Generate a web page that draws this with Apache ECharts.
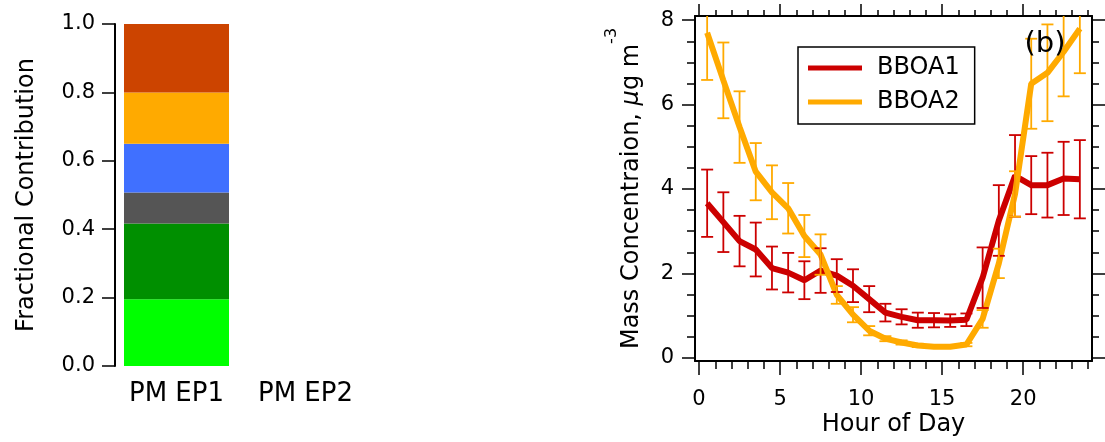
<!DOCTYPE html>
<html><head><meta charset="utf-8">
<script src="https://cdn.jsdelivr.net/npm/echarts@6/dist/echarts.min.js"></script>
<style>html,body{margin:0;padding:0;background:#fff}#c{width:1105px;height:442px}</style>
</head><body><div id="c"></div>
<script>
// ---------- data: panel (a) fractional contribution ----------
const barCategories = ['PM EP1', 'PM EP2'];
const factorNames = ['Factor 1', 'Factor 2', 'Factor 3', 'Factor 4', 'Factor 5', 'Factor 6'];
const factor1 = [0.195, null];
const factor2 = [0.222, null];
const factor3 = [0.090, null];
const factor4 = [0.143, null];
const factor5 = [0.150, null];
const factor6 = [0.200, null];
const fracTicks = [0.0, 0.2, 0.4, 0.6, 0.8, 1.0];

// ---------- data: panel (b) diurnal profiles ----------
const hours = [0.5, 1.5, 2.5, 3.5, 4.5, 5.5, 6.5, 7.5, 8.5, 9.5, 10.5, 11.5,
               12.5, 13.5, 14.5, 15.5, 16.5, 17.5, 18.5, 19.5, 20.5, 21.5, 22.5, 23.5];
const bboa1 = [3.65, 3.20, 2.75, 2.55, 2.11, 2.00, 1.82, 2.05, 1.93, 1.69, 1.37, 1.05,
               0.95, 0.87, 0.87, 0.86, 0.88, 1.88, 3.24, 4.30, 4.08, 4.08, 4.24, 4.22];
const bboa1Err = [0.80, 0.71, 0.60, 0.64, 0.51, 0.47, 0.45, 0.53, 0.39, 0.39, 0.31, 0.21,
                  0.18, 0.18, 0.17, 0.15, 0.15, 0.72, 0.84, 0.97, 0.69, 0.77, 0.87, 0.93];
const bboa2 = [7.70, 6.57, 5.46, 4.40, 3.91, 3.53, 2.87, 2.43, 1.47, 1.00, 0.62, 0.43,
               0.34, 0.27, 0.24, 0.24, 0.29, 0.90, 2.22, 3.87, 6.49, 6.75, 7.25, 7.80];
const bboa2Err = [1.12, 0.90, 0.85, 0.68, 0.64, 0.60, 0.50, 0.48, 0.21, 0.18, 0.11, 0.06,
                  0.05, 0.04, 0.03, 0.03, 0.04, 0.21, 0.35, 0.54, 1.07, 1.15, 1.06, 1.06];
const hourTicks = [0, 5, 10, 15, 20];
const concTicks = [0, 2, 4, 6, 8];

// ---------- styles ----------
const FONT = 'DejaVu Sans';
const factorColors = ['#00FF00', '#008F00', '#555555', '#4070FF', '#FFAA00', '#CC4400'];
const RED = '#CC0000', ORANGE = '#FFAA00';

const factorData = [factor1, factor2, factor3, factor4, factor5, factor6];
const barSeries = factorData.map((d, i) => ({
  name: factorNames[i], type: 'bar', stack: 'frac', xAxisIndex: 0, yAxisIndex: 0,
  barWidth: 105, data: d, itemStyle: { color: factorColors[i] }, silent: true
}));

function errRender(color) {
  return function (params, api) {
    const x = api.value(0), v = api.value(1), e = api.value(2);
    const t = api.coord([x, v + e]), b = api.coord([x, v - e]);
    const hw = 6;
    const style = { stroke: color, lineWidth: 1.8, fill: null };
    return { type: 'group', children: [
      { type: 'line', shape: { x1: t[0], y1: t[1], x2: b[0], y2: b[1] }, style },
      { type: 'line', shape: { x1: t[0] - hw, y1: t[1], x2: t[0] + hw, y2: t[1] }, style },
      { type: 'line', shape: { x1: b[0] - hw, y1: b[1], x2: b[0] + hw, y2: b[1] }, style }
    ]};
  };
}

const black = '#000';
const frameLine = { show: true, onZero: false, lineStyle: { color: black, width: 2 } };
const noLine = { show: false, onZero: false };
const tickStyle = { width: 1.5, color: black };
const hidden = (gi) => ({ gridIndex: gi, type: 'value', show: false, min: 0, max: 1, axisLine: { onZero: false } });

const option = {
  animation: false,
  textStyle: { fontFamily: FONT, color: black },
  grid: [
    { left: 112, top: 24, width: 258, height: 342 },          // 0 panel a
    { left: 695, top: 16, width: 397, height: 346 },          // 1 frame b
    { left: 699.05, top: 16, width: 388.9, height: 346 },     // 2 minor hour ticks 0..24
    { left: 699.05, top: 16, width: 324.08, height: 346 },    // 3 major hour ticks 0..20
    { left: 695, top: 20.22, width: 397, height: 337.56 }     // 4 conc ticks 0..8
  ],
  legend: {
    data: ['BBOA1', 'BBOA2'], left: 798, top: 47, orient: 'vertical',
    icon: 'rect', itemWidth: 54, itemHeight: 5, itemGap: 10,
    padding: [9, 15, 10, 10], borderColor: black, borderWidth: 1.5,
    textStyle: { fontSize: 24, fontFamily: FONT, color: black, padding: [0, 0, 0, 10] }
  },
  xAxis: [
    { gridIndex: 0, type: 'category', data: barCategories, axisLine: noLine,
      axisTick: { show: false }, axisLabel: { fontSize: 26, color: black, margin: 15 } },
    { gridIndex: 1, type: 'value', position: 'bottom', min: -0.25, max: 24.25,
      axisLine: frameLine, axisTick: { show: false }, axisLabel: { show: false },
      splitLine: { show: false },
      name: 'Hour of Day', nameLocation: 'middle', nameGap: 52,
      nameTextStyle: { fontSize: 24, color: black, fontFamily: FONT } },
    { gridIndex: 1, type: 'value', position: 'top', min: -0.25, max: 24.25,
      axisLine: frameLine, axisTick: { show: false }, axisLabel: { show: false },
      splitLine: { show: false } },
    { gridIndex: 2, type: 'value', position: 'bottom', min: 0, max: 24, interval: 1,
      axisLine: noLine, axisTick: { length: 7, lineStyle: tickStyle },
      axisLabel: { show: false }, splitLine: { show: false } },
    { gridIndex: 2, type: 'value', position: 'top', min: 0, max: 24, interval: 1,
      axisLine: noLine, axisTick: { length: 6, lineStyle: tickStyle },
      axisLabel: { show: false }, splitLine: { show: false } },
    { gridIndex: 3, type: 'value', position: 'bottom', min: hourTicks[0], max: hourTicks[hourTicks.length - 1], interval: 5,
      axisLine: noLine, axisTick: { length: 13, lineStyle: tickStyle },
      axisLabel: { fontSize: 21, color: black, margin: 27 }, splitLine: { show: false } },
    { gridIndex: 3, type: 'value', position: 'top', min: hourTicks[0], max: hourTicks[hourTicks.length - 1], interval: 5,
      axisLine: noLine, axisTick: { length: 12, lineStyle: tickStyle },
      axisLabel: { show: false }, splitLine: { show: false } },
    hidden(4)
  ],
  yAxis: [
    { gridIndex: 0, type: 'value', min: fracTicks[0], max: fracTicks[fracTicks.length - 1], interval: 0.2, offset: -3,
      axisLine: frameLine,
      axisTick: { show: true, length: 13, lineStyle: tickStyle },
      axisLabel: { fontSize: 21, color: black, margin: 20, formatter: v => v.toFixed(1) },
      splitLine: { show: false },
      name: 'Fractional Contribution', nameLocation: 'middle', nameGap: 76,
      nameTextStyle: { fontSize: 24, color: black, fontFamily: FONT } },
    { gridIndex: 1, type: 'value', position: 'left', min: -0.1, max: 8.1,
      axisLine: frameLine, axisTick: { show: false },
      axisLabel: { show: false }, splitLine: { show: false },
      name: '{a|Mass Concentraion, }{b|μ}{a|g m}{s|-3}', nameLocation: 'middle', nameGap: 35,
      nameTextStyle: { color: black, rich: {
        a: { fontSize: 24, fontFamily: FONT, color: black },
        b: { fontSize: 24, fontFamily: FONT, fontStyle: 'italic', color: black },
        s: { fontSize: 16, fontFamily: FONT, color: black, padding: [0, 0, 40, 0] }
      } } },
    { gridIndex: 1, type: 'value', position: 'right', min: -0.1, max: 8.1,
      axisLine: frameLine, axisTick: { show: false },
      axisLabel: { show: false }, splitLine: { show: false } },
    hidden(2),
    hidden(3),
    { gridIndex: 4, type: 'value', position: 'left', min: concTicks[0], max: concTicks[concTicks.length - 1], interval: 2,
      axisLine: noLine, axisTick: { length: 13, lineStyle: tickStyle },
      minorTick: { show: true, splitNumber: 4, length: 8, lineStyle: tickStyle },
      axisLabel: { fontSize: 21, color: black, margin: 21 }, splitLine: { show: false }, minorSplitLine: { show: false } },
    { gridIndex: 4, type: 'value', position: 'right', min: concTicks[0], max: concTicks[concTicks.length - 1], interval: 2,
      axisLine: noLine, axisTick: { length: 13, lineStyle: tickStyle },
      minorTick: { show: true, splitNumber: 4, length: 7, lineStyle: tickStyle },
      axisLabel: { show: false }, splitLine: { show: false }, minorSplitLine: { show: false } }
  ],
  graphic: [
    { type: 'text', x: 1045, y: 44, z: 10,
      style: { text: '(b)', fontSize: 29, fontFamily: FONT, fill: black, align: 'center', verticalAlign: 'middle' } }
  ],
  series: barSeries.concat([
    { name: 'BBOA1', type: 'line', xAxisIndex: 1, yAxisIndex: 1, showSymbol: false, symbol: 'none',
      data: hours.map((h, i) => [h, bboa1[i]]), itemStyle: { color: RED },
      lineStyle: { color: RED, width: 6 }, z: 2 },
    { name: 'BBOA2', type: 'line', xAxisIndex: 1, yAxisIndex: 1, showSymbol: false, symbol: 'none',
      data: hours.map((h, i) => [h, bboa2[i]]), itemStyle: { color: ORANGE },
      lineStyle: { color: ORANGE, width: 6 }, z: 2 },
    { name: 'BBOA1 err', type: 'custom', xAxisIndex: 1, yAxisIndex: 1, clip: true, z: 3,
      renderItem: errRender(RED), encode: { x: 0, y: 1 },
      data: hours.map((h, i) => [h, bboa1[i], bboa1Err[i]]) },
    { name: 'BBOA2 err', type: 'custom', xAxisIndex: 1, yAxisIndex: 1, clip: true, z: 3,
      renderItem: errRender(ORANGE), encode: { x: 0, y: 1 },
      data: hours.map((h, i) => [h, bboa2[i], bboa2Err[i]]) }
  ])
};

const chart = echarts.init(document.getElementById('c'), null, { renderer: 'canvas' });
chart.setOption(option);
</script>
</body></html>
